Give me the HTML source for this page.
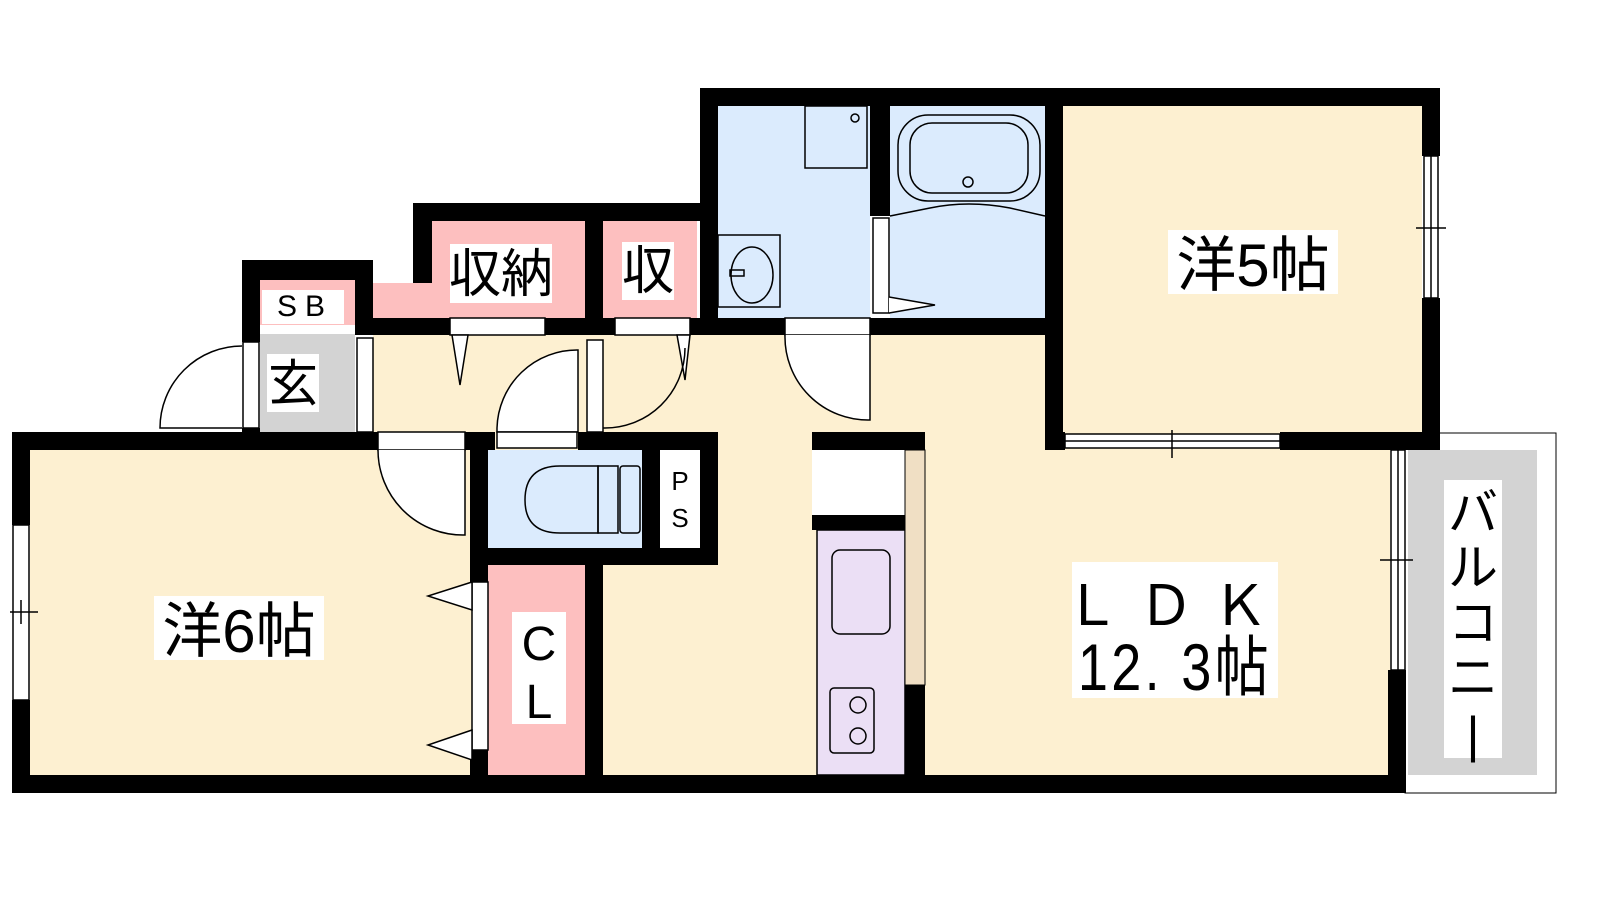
<!DOCTYPE html>
<html><head><meta charset="utf-8"><style>
html,body{margin:0;padding:0;background:#fff;width:1600px;height:900px;overflow:hidden}
svg text{font-family:"Liberation Sans","Noto Sans CJK JP",sans-serif;fill:#000}
</style></head><body>
<svg width="1600" height="900" viewBox="0 0 1600 900" xmlns="http://www.w3.org/2000/svg">
<g stroke="none">
<rect x="30" y="450" width="440" height="325" fill="#fdf0d1"/>
<rect x="373" y="335" width="1017" height="440" fill="#fdf0d1"/>
<rect x="1063" y="106" width="359" height="326" fill="#fdf0d1"/>
<rect x="870" y="318" width="175" height="132" fill="#fdf0d1"/>
<rect x="260" y="280" width="95" height="45" fill="#fdbfbf"/>
<rect x="432" y="221" width="153" height="97" fill="#fdbfbf"/>
<rect x="373" y="283" width="70" height="35" fill="#fdbfbf"/>
<rect x="603" y="221" width="94" height="97" fill="#fdbfbf"/>
<rect x="488" y="565" width="97" height="210" fill="#fdbfbf"/>
<rect x="260" y="334" width="95" height="98" fill="#d3d3d3"/>
<rect x="718" y="106" width="152" height="212" fill="#dbebfd"/>
<rect x="890" y="106" width="155" height="212" fill="#dbebfd"/>
<rect x="488" y="450" width="154" height="98" fill="#dbebfd"/>
<rect x="660" y="450" width="40" height="98" fill="#fff"/>
<rect x="812" y="450" width="93" height="65" fill="#fff"/>
<rect x="817" y="530" width="88" height="245" fill="#ebdff5" stroke="#000" stroke-width="1.5"/>
<rect x="905" y="450" width="20" height="235" fill="#f0dfc4" stroke="#000" stroke-width="1"/>
<rect x="1405" y="433" width="151" height="360" fill="#fff" stroke="#000" stroke-width="1"/>
<rect x="1408" y="450" width="129" height="325" fill="#d3d3d3"/>
</g>
<g fill="#000">
<rect x="12" y="775" width="1393" height="18"/>
<rect x="12" y="432" width="18" height="93"/><rect x="12" y="700" width="18" height="93"/>
<rect x="12" y="432" width="366" height="18"/>
<rect x="242" y="260" width="18" height="82"/><rect x="242" y="428" width="18" height="22"/>
<rect x="242" y="260" width="131" height="20"/>
<rect x="355" y="260" width="18" height="75"/>
<rect x="413" y="203" width="305" height="18"/>
<rect x="413" y="203" width="19" height="80"/>
<rect x="355" y="318" width="95" height="17"/><rect x="545" y="318" width="70" height="17"/>
<rect x="585" y="221" width="18" height="114"/>
<rect x="690" y="318" width="95" height="17"/>
<rect x="870" y="318" width="193" height="17"/>
<rect x="700" y="88" width="740" height="18"/>
<rect x="700" y="88" width="18" height="247"/>
<rect x="870" y="106" width="20" height="110"/>
<rect x="1045" y="106" width="18" height="344"/>
<rect x="1422" y="88" width="18" height="68"/><rect x="1422" y="298" width="18" height="152"/>
<rect x="1280" y="432" width="160" height="18"/>
<rect x="1045" y="432" width="20" height="18"/>
<rect x="1388" y="670" width="18" height="123"/>
<rect x="465" y="432" width="30" height="18"/><rect x="578" y="432" width="140" height="18"/>
<rect x="470" y="432" width="18" height="150"/>
<rect x="470" y="548" width="248" height="17"/>
<rect x="642" y="450" width="18" height="98"/><rect x="700" y="432" width="18" height="133"/>
<rect x="585" y="565" width="18" height="210"/>
<rect x="470" y="750" width="18" height="43"/>
<rect x="812" y="432" width="113" height="18"/>
<rect x="812" y="515" width="93" height="15"/>
<rect x="905" y="685" width="20" height="90"/>
</g>
<g fill="#fff" stroke="#000" stroke-width="1.5">
<rect x="243" y="342" width="16" height="86"/>
<rect x="357" y="338" width="16" height="94"/>
<path d="M242 428 L160 428 A82 82 0 0 1 242 346" />
<rect x="450" y="318" width="95" height="17"/>
<path d="M452 335 L460 385 L468 335 Z"/>
<rect x="615" y="318" width="75" height="17"/>
<path d="M677 335 L685 380 L690 335 Z"/>
<rect x="587" y="340" width="16" height="92"/>
<path d="M603 428 A80 80 0 0 0 685 348" fill="none"/>
<path d="M497 432 L497 428 A80 80 0 0 1 578 350 L578 432 Z"/>
<rect x="497" y="432" width="80" height="16"/>
<rect x="378" y="432" width="87" height="18"/>
<path d="M378 450 A85 85 0 0 0 465 535 L465 450"/>
<rect x="785" y="318" width="85" height="17"/>
<path d="M785 335 A83 83 0 0 0 870 420 L870 335"/>
<rect x="873" y="218" width="16" height="95"/>
<path d="M889 297 L935 305 L889 313"/>
<rect x="472" y="582" width="16" height="168"/>
<path d="M472 582 L428 596 L472 610 Z"/><path d="M472 730 L428 745 L472 760 Z"/>
<rect x="13" y="525" width="16" height="175"/>
<rect x="1065" y="434" width="215" height="14"/>
<rect x="1424" y="156" width="14" height="142"/>
<rect x="1391" y="450" width="14" height="220"/>
</g>
<g stroke="#000" stroke-width="1.5" fill="none">
<line x1="10" y1="612" x2="38" y2="612"/><line x1="21" y1="600" x2="21" y2="624"/>
<line x1="1065" y1="441" x2="1280" y2="441"/><line x1="1172" y1="430" x2="1172" y2="458"/>
<line x1="1431" y1="156" x2="1431" y2="298"/><line x1="1416" y1="228" x2="1446" y2="228"/>
<line x1="1398" y1="450" x2="1398" y2="670"/><line x1="1380" y1="560" x2="1413" y2="560"/>
<rect x="805" y="106" width="62" height="62"/><circle cx="855" cy="118" r="4"/>
<rect x="718" y="235" width="62" height="72"/><ellipse cx="752" cy="275" rx="21" ry="28"/>
<rect x="730" y="270" width="14" height="6"/>
<rect x="898" y="115" width="142" height="86" rx="30"/>
<rect x="910" y="123" width="118" height="70" rx="22"/>
<circle cx="968" cy="182" r="5"/>
<path d="M890 216 L930 208 Q968 200 1010 208 L1045 216"/>
<path d="M598 466 L560 466 Q525 466 525 500 Q525 533 560 533 L598 533 Z"/>
<rect x="598" y="466" width="20" height="67"/><rect x="620" y="466" width="20" height="67" rx="3"/>
<rect x="832" y="550" width="58" height="84" rx="8"/>
<rect x="830" y="688" width="44" height="65" rx="4"/>
<circle cx="858" cy="705" r="8"/><circle cx="858" cy="736" r="8"/>
</g>
<g>
<rect x="154" y="596" width="170" height="64" fill="#fff"/>
<text x="239" y="652" font-size="60" text-anchor="middle">洋6帖</text>
<rect x="1168" y="230" width="170" height="64" fill="#fff"/>
<text x="1253" y="286" font-size="60" text-anchor="middle">洋5帖</text>
<rect x="1072" y="562" width="206" height="136" fill="#fff"/>
<text x="1175" y="625" font-size="56" text-anchor="middle" letter-spacing="18">ＬＤＫ</text>
<text x="1175" y="690" font-size="66" text-anchor="middle" letter-spacing="4" transform="translate(1175 0) scale(0.82 1) translate(-1175 0)">12. 3帖</text>
<rect x="1444" y="480" width="58" height="278" fill="#fff"/>
<text x="1473" y="530" font-size="50" text-anchor="middle">バ</text>
<text x="1473" y="585" font-size="50" text-anchor="middle">ル</text>
<text x="1473" y="640" font-size="50" text-anchor="middle">コ</text>
<text x="1473" y="695" font-size="50" text-anchor="middle">ニ</text>
<text x="1473" y="752" font-size="50" text-anchor="middle">|</text>
<rect x="512" y="612" width="54" height="112" fill="#fff"/>
<text x="539" y="660" font-size="48" text-anchor="middle">C</text>
<text x="539" y="718" font-size="48" text-anchor="middle">L</text>
<text x="680" y="490" font-size="26" text-anchor="middle">P</text>
<text x="680" y="527" font-size="26" text-anchor="middle">S</text>
<rect x="450" y="244" width="102" height="59" fill="#fff"/>
<text x="501" y="292" font-size="52" text-anchor="middle">収納</text>
<rect x="622" y="242" width="52" height="58" fill="#fff"/>
<text x="648" y="289" font-size="52" text-anchor="middle">収</text>
<rect x="262" y="290" width="82" height="34" fill="#fff"/>
<text x="305" y="316" font-size="30" text-anchor="middle" letter-spacing="8">SB</text>
<rect x="267" y="354" width="52" height="58" fill="#fff"/>
<text x="293" y="401" font-size="50" text-anchor="middle">玄</text>
</g>
</svg>
</body></html>
